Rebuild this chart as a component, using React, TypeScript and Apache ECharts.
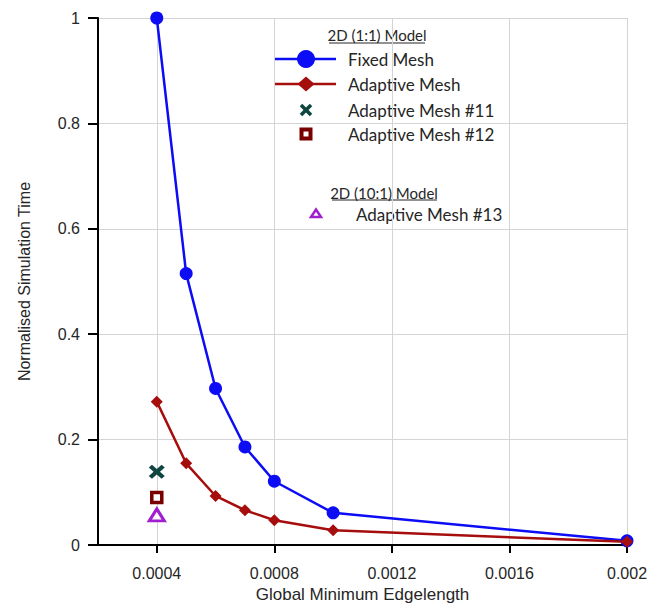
import React, { useEffect, useRef } from "react";
import * as echarts from "echarts";

// Minimum edge length of the mesh for each run
const edgeLengths = [0.0004, 0.0005, 0.0006, 0.0007, 0.0008, 0.001, 0.002];
// Normalised simulation time, 2D (1:1) model
const fixedMesh = [1.0, 0.515, 0.297, 0.186, 0.121, 0.061, 0.008];
const adaptiveMesh = [0.272, 0.155, 0.093, 0.066, 0.047, 0.028, 0.006];
// Single adaptive runs
const adaptiveMesh11: [number, number][] = [[0.0004, 0.139]];
const adaptiveMesh12: [number, number][] = [[0.0004, 0.09]];
// 2D (10:1) model
const adaptiveMesh13: [number, number][] = [[0.0004, 0.057]];

const xTickValues = [0.0004, 0.0008, 0.0012, 0.0016, 0.002];
const xTickLabels = ["0.0004", "0.0008", "0.0012", "0.0016", "0.002"];
const yTickLabels = ["0", "0.2", "0.4", "0.6", "0.8", "1"];

const BLUE = "#0c0cf5";
const RED = "#a60d0d";
const TEAL = "#0f4640";
const MAROON = "#7a0000";
const PURPLE = "#a020d0";
const TEXT = "#262626";
const AXIS_FONT = "Liberation Sans";

const crossPath =
  "path://M2,0 L5,3 L8,0 L10,2 L7,5 L10,8 L8,10 L5,7 L2,10 L0,8 L3,5 L0,2 Z";

function legendText(text: string, x: number, y: number, size: number, align = "left") {
  return {
    type: "text",
    style: {
      text,
      x,
      y,
      fill: TEXT,
      font: `${size}px Lato`,
      textAlign: align,
      textVerticalAlign: "middle",
    },
  };
}

export default function App() {
  const ref = useRef<HTMLDivElement>(null);

  useEffect(() => {
    if (!ref.current) return;
    const chart = echarts.init(ref.current, null, { renderer: "svg" });

    const zip = (ys: number[]) => edgeLengths.map((x, i) => [x, ys[i]]);

    chart.setOption({
      animation: false,
      backgroundColor: "#ffffff",
      grid: {
        left: 98,
        right: 31,
        top: 18,
        bottom: 58,
        containLabel: false,
        outerBoundsMode: "none",
      },
      xAxis: {
        type: "value",
        min: 0.0002,
        max: 0.002,
        name: "Global Minimum Edgelength",
        nameLocation: "middle",
        nameGap: 36,
        nameTextStyle: { fontFamily: AXIS_FONT, fontSize: 17, lineHeight: 17, color: TEXT },
        axisLine: { onZero: false, lineStyle: { color: "#000", width: 2 } },
        axisTick: {
          show: true,
          length: 8,
          customValues: xTickValues,
          lineStyle: { color: "#000", width: 2 },
        },
        axisLabel: {
          customValues: xTickValues,
          margin: 20,
          fontFamily: AXIS_FONT,
          fontSize: 16,
          color: TEXT,
          formatter: (v: number) => {
            const i = xTickValues.findIndex((t) => Math.abs(t - v) < 1e-9);
            return i >= 0 ? xTickLabels[i] : "";
          },
        },
        splitLine: { show: true, lineStyle: { color: "#d4d4d4", width: 1 } },
      },
      yAxis: {
        type: "value",
        min: 0,
        max: 1,
        interval: 0.2,
        name: "Normalised Simulation Time",
        nameLocation: "middle",
        nameGap: 66,
        nameTextStyle: { fontFamily: AXIS_FONT, fontSize: 16, color: TEXT },
        axisLine: { show: true, lineStyle: { color: "#000", width: 2 } },
        axisTick: { show: true, length: 10, lineStyle: { color: "#000", width: 2 } },
        axisLabel: {
          margin: 18,
          fontFamily: AXIS_FONT,
          fontSize: 16,
          color: TEXT,
          formatter: (v: number) => yTickLabels[Math.round(v / 0.2)],
        },
        splitLine: { show: true, lineStyle: { color: "#d4d4d4", width: 1 } },
      },
      series: [
        {
          name: "Fixed Mesh",
          type: "line",
          data: zip(fixedMesh),
          symbol: "circle",
          symbolSize: 13,
          lineStyle: { color: BLUE, width: 2.5 },
          itemStyle: { color: BLUE },
          z: 3,
        },
        {
          name: "Adaptive Mesh",
          type: "line",
          data: zip(adaptiveMesh),
          symbol: "diamond",
          symbolSize: [12, 12],
          lineStyle: { color: RED, width: 2.5 },
          itemStyle: { color: RED },
          z: 4,
        },
        {
          name: "Adaptive Mesh #11",
          type: "scatter",
          data: adaptiveMesh11,
          symbol: crossPath,
          symbolSize: [16, 14],
          itemStyle: { color: TEAL, opacity: 1 },
        },
        {
          name: "Adaptive Mesh #12",
          type: "scatter",
          data: adaptiveMesh12,
          symbol: "rect",
          symbolSize: 10,
          itemStyle: { color: "#ffffff", borderColor: MAROON, borderWidth: 3.5, opacity: 1 },
        },
        {
          name: "Adaptive Mesh #13",
          type: "scatter",
          data: adaptiveMesh13,
          symbol: "triangle",
          symbolSize: [15, 12],
          itemStyle: { color: "#ffffff", borderColor: PURPLE, borderWidth: 3, opacity: 1 },
        },
      ],
      graphic: [
        // 2D (1:1) model heading
        legendText("2D (1:1) Model", 377, 35, 15, "center"),
        {
          type: "line",
          shape: { x1: 329, y1: 43, x2: 425, y2: 43 },
          style: { stroke: TEXT, lineWidth: 1 },
        },
        // Fixed Mesh
        {
          type: "line",
          shape: { x1: 275, y1: 59, x2: 336, y2: 59 },
          style: { stroke: BLUE, lineWidth: 2.5 },
        },
        { type: "circle", shape: { cx: 306, cy: 59, r: 9 }, style: { fill: BLUE } },
        legendText("Fixed Mesh", 348, 59, 17),
        // Adaptive Mesh
        {
          type: "line",
          shape: { x1: 275, y1: 84, x2: 336, y2: 84 },
          style: { stroke: RED, lineWidth: 2.5 },
        },
        {
          type: "polygon",
          shape: { points: [[306, 76.5], [314.5, 84], [306, 91.5], [297.5, 84]] },
          style: { fill: RED },
        },
        legendText("Adaptive Mesh", 348, 84, 17),
        // Adaptive Mesh #11
        {
          type: "line",
          shape: { x1: 301, y1: 105, x2: 311, y2: 115 },
          style: { stroke: TEAL, lineWidth: 3.5 },
        },
        {
          type: "line",
          shape: { x1: 311, y1: 105, x2: 301, y2: 115 },
          style: { stroke: TEAL, lineWidth: 3.5 },
        },
        legendText("Adaptive Mesh #11", 348, 110, 17),
        // Adaptive Mesh #12
        {
          type: "rect",
          shape: { x: 301.5, y: 129.5, width: 9, height: 9 },
          style: { fill: "#ffffff", stroke: MAROON, lineWidth: 4 },
        },
        legendText("Adaptive Mesh #12", 348, 134, 17),
        // 2D (10:1) model heading
        legendText("2D (10:1) Model", 384, 193, 15, "center"),
        {
          type: "line",
          shape: { x1: 332, y1: 200, x2: 437, y2: 200 },
          style: { stroke: TEXT, lineWidth: 1 },
        },
        // Adaptive Mesh #13
        {
          type: "polygon",
          shape: { points: [[316, 209.5], [321, 217], [311, 217]] },
          style: { fill: "#ffffff", stroke: PURPLE, lineWidth: 2.5 },
        },
        legendText("Adaptive Mesh #13", 356, 214, 17),
      ],
    });

    return () => chart.dispose();
  }, []);

  return (
    <div
      ref={ref}
      style={{ position: "fixed", left: 0, top: 0, width: 658, height: 603, background: "#fff" }}
    />
  );
}
